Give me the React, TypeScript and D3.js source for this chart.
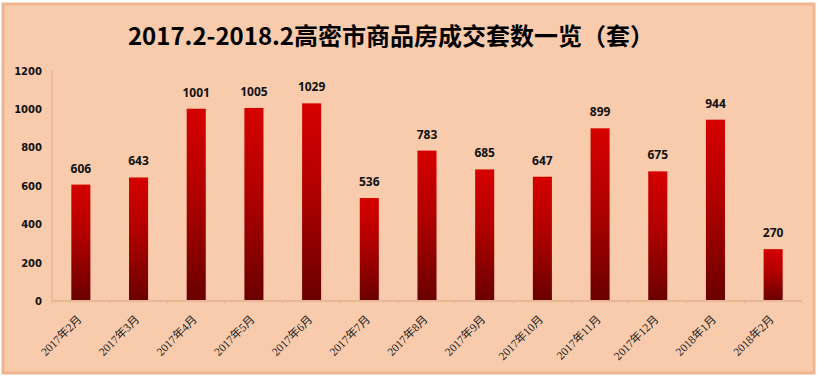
import React from "react";
import * as d3 from "d3";

const title = "2017.2-2018.2高密市商品房成交套数一览（套）";
const categories = ["2017年2月","2017年3月","2017年4月","2017年5月","2017年6月","2017年7月","2017年8月","2017年9月","2017年10月","2017年11月","2017年12月","2018年1月","2018年2月"];
const values = [606, 643, 1001, 1005, 1029, 536, 783, 685, 647, 899, 675, 944, 270];
const yTicks = [0, 200, 400, 600, 800, 1000, 1200];

const W = 818, H = 377;
const left = 52, right = 802, top = 70.5, bottom = 301;

export default function App() {
  const x = d3.scaleBand<string>().domain(categories).range([left, right]).paddingInner(0.67).paddingOuter(0.335);
  const y = d3.scaleLinear().domain([0, 1200]).range([bottom, top]);
  const band = (right - left) / categories.length;
  return (
    <svg width={W} height={H} style={{ position: "absolute", left: 0, top: 0 }}>
      <defs>
        <linearGradient id="barg" x1="0" y1="0" x2="0" y2="1">
          <stop offset="0%" stopColor="#d60000" />
          <stop offset="45%" stopColor="#b00000" />
          <stop offset="100%" stopColor="#6a0000" />
        </linearGradient>
      </defs>
      <rect x={0} y={0} width={W} height={H} fill="#ffffff" />
      <rect x={3} y={4} width={811} height={369} fill="#f8cbad" stroke="#f0b48e" strokeWidth={3} />
      <text x={391} y={45} textAnchor="middle" fontFamily="'Noto Sans CJK SC'" fontWeight={700} fontSize={24} fill="#000">{title}</text>
      {/* y axis */}
      <line x1={left} x2={left} y1={top} y2={bottom} stroke="#e9b796" strokeWidth={1.5} />
      {yTicks.map(t => (
        <text key={t} x={42} y={y(t) + 4} textAnchor="end" fontFamily="'DejaVu Sans'" fontWeight={700} fontSize={10} fill="#111">{t}</text>
      ))}
      {/* bars */}
      {categories.map((c, i) => (
        <g key={c}>
          <rect x={x(c)} y={y(values[i])} width={x.bandwidth()} height={bottom - y(values[i])} fill="url(#barg)" />
          <text x={(x(c) as number) + x.bandwidth() / 2} y={y(values[i]) - 12} textAnchor="middle" fontFamily="'Noto Sans', Arial" fontWeight={700} fontSize={12} fill="#111">{values[i]}</text>
        </g>
      ))}
      {/* x axis */}
      <line x1={left} x2={right} y1={bottom} y2={bottom} stroke="#e9b796" strokeWidth={2} />
      {d3.range(categories.length + 1).map(i => (
        <line key={i} x1={left + i * band} x2={left + i * band} y1={bottom} y2={bottom + 3} stroke="#e9b796" strokeWidth={1} />
      ))}
      {categories.map(c => {
        const cx = (x(c) as number) + x.bandwidth() / 2 + 1.5;
        const cy = 320;
        return (
          <text key={c} x={cx} y={cy} transform={`rotate(-45 ${cx} ${cy})`} textAnchor="end" fontFamily="'Liberation Serif', 'Noto Sans CJK SC'" fontSize={11.5} fill="#222">{c}</text>
        );
      })}
    </svg>
  );
}
